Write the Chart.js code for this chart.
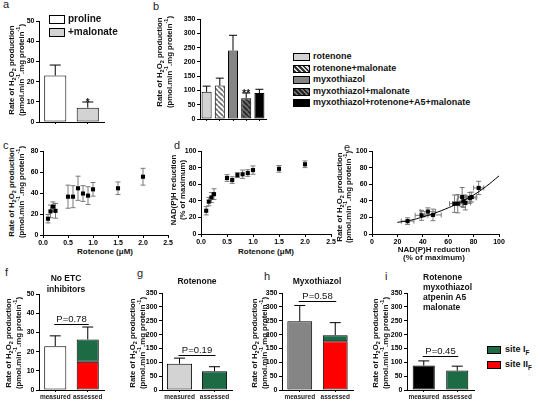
<!DOCTYPE html>
<html>
<head>
<meta charset="utf-8">
<script src="https://cdn.jsdelivr.net/npm/chart.js@4.4.1/dist/chart.umd.min.js"></script>
<style>
  body { margin: 0; background: #fff; width: 540px; height: 403px; position: relative; overflow: hidden;
         font-family: "Liberation Sans", Arial, sans-serif; color: #111; }
  canvas { position: absolute; }
  .t { position: absolute; white-space: nowrap; font-weight: bold; }
  .lt { position: absolute; font-size: 11px; color: #222; line-height: 12px; }
  .yl { position: absolute; white-space: nowrap; font-weight: bold; font-size: 7.8px; line-height: 9px;
        transform: translate(-50%, -50%) rotate(-90deg); }
  .box { position: absolute; border: 1px solid #000; box-sizing: border-box; }
  sub, sup { font-size: 70%; line-height: 0; }
</style>
</head>
<body>
<canvas id="ca"></canvas><canvas id="cb"></canvas>
<canvas id="cc"></canvas><canvas id="cd"></canvas><canvas id="ce"></canvas>
<canvas id="cf"></canvas><canvas id="cg"></canvas><canvas id="ch"></canvas><canvas id="ci"></canvas>

<!-- panel letters -->
<div class="lt" style="left:3px;top:-2px">a</div>
<div class="lt" style="left:153px;top:0px">b</div>
<div class="lt" style="left:3px;top:139px">c</div>
<div class="lt" style="left:174px;top:139px">d</div>
<div class="lt" style="left:344px;top:141px">e</div>
<div class="lt" style="left:5px;top:266px">f</div>
<div class="lt" style="left:137px;top:267px">g</div>
<div class="lt" style="left:264px;top:270px">h</div>
<div class="lt" style="left:385px;top:270px">i</div>

<!-- legend a -->
<div class="box" style="left:49px;top:15px;width:16px;height:9px;background:#fff"></div>
<div class="t" style="left:68px;top:13px;font-size:10px">proline</div>
<div class="box" style="left:49px;top:28px;width:16px;height:9px;background:#d3d3d3"></div>
<div class="t" style="left:68px;top:26px;font-size:10px">+malonate</div>

<div id="legB"></div>

<!-- titles f-i -->
<div class="t" style="left:66px;top:273px;font-size:8.5px;transform:translateX(-50%);text-align:center;line-height:11px">No ETC<br>inhibitors</div>
<div class="t" style="left:197px;top:276px;font-size:8.5px;transform:translateX(-50%)">Rotenone</div>
<div class="t" style="left:317px;top:276px;font-size:8.5px;transform:translateX(-50%)">Myxothiazol</div>
<div class="t" style="left:423px;top:272px;font-size:8.5px;line-height:10px">Rotenone<br>myxothiazol<br>atpenin A5<br>malonate</div>

<!-- legend i -->
<div class="box" style="left:487px;top:346px;width:14px;height:8px;background:#1d6b45"></div>
<div class="t" style="left:505px;top:344px;font-size:9px">site I<sub>F</sub></div>
<div class="box" style="left:487px;top:361px;width:14px;height:8px;background:#ff0000"></div>
<div class="t" style="left:505px;top:359px;font-size:9px">site II<sub>F</sub></div>

<!-- x axis titles -->
<div class="t" style="left:105px;top:247px;font-size:8px;transform:translateX(-50%)">Rotenone (&mu;M)</div>
<div class="t" style="left:266px;top:247px;font-size:8px;transform:translateX(-50%)">Rotenone (&mu;M)</div>
<div class="t" style="left:434px;top:246px;font-size:8px;transform:translateX(-50%);text-align:center;line-height:8px">NAD(P)H reduction<br>(% of maximum)</div>

<div id="ylabels"></div>

<script>
// ---- data ----
const aLabels = ['proline', '+malonate'];
const aValues = [23, 7.1];
const aErr = [5.2, 2.8];
const aMarks = ['', '*'];

const bLabels = ['rotenone', 'rotenone+malonate', 'myxothiazol', 'myxothiazol+malonate', 'myxothiazol+rotenone+A5+malonate'];
const bValues = [95, 117, 240, 73, 91];
const bErr = [20, 26, 53, 18, 13];
const bMarks = ['', '', '', '**', ''];

const rotenoneConc = [0.1, 0.15, 0.2, 0.25, 0.5, 0.6, 0.7, 0.8, 0.9, 1.0, 1.5, 2.0];
const h2o2Rate = [15.5, 22.5, 27, 23, 36.5, 36.5, 44.5, 39.5, 37.5, 43.5, 44.5, 55.5];
const h2o2Err = [4, 6, 4.5, 7, 11, 10.5, 11.5, 7.5, 8.5, 6.5, 6, 8];
const nadphRed = [28, 39, 44, 48, 67.5, 65, 71, 72, 73.5, 77, 78.5, 84];
const nadphErr = [5, 5, 6, 6.5, 4, 4, 3, 5, 4, 5, 4, 4];
const fitX = [20, 30, 40, 50, 60, 70, 80, 90, 100];
const fitY = [14, 16.5, 20.5, 25.5, 31.5, 38.5, 47, 57.5, 70];

const siteLabels = ['measured', 'assessed'];
const fMeasured = [22.8, null], fSiteIF = [null, 11.6], fSiteIIF = [null, 14.7], fErr = [5.4, 6.5];
const gMeasured = [95, null], gSiteIF = [null, 68], gErr = [20, 16];
const hMeasured = [248, null], hSiteIF = [null, 22], hSiteIIF = [null, 176], hErr = [57, 45];
const iMeasured = [88, null], iSiteIF = [null, 70], iErr = [17, 16];
const pTexts = ['P=0.78', 'P=0.19', 'P=0.58', 'P=0.45'];
const pLevels = [34.5, 127, 322, 121];

// ---- colours ----
const GREEN = '#1d6b45', RED = '#ff0000', LIGHT = '#d3d3d3', MID = '#858585';

// diagonal hatch used in panel b
function hatch(bg, fg) {
  const s = 5, c = document.createElement('canvas');
  c.width = s; c.height = s;
  const x = c.getContext('2d');
  x.fillStyle = bg; x.fillRect(0, 0, s, s);
  x.strokeStyle = fg; x.lineWidth = 1.6;
  for (const k of [-s, 0, s]) { x.beginPath(); x.moveTo(k, 0); x.lineTo(k + s, s); x.stroke(); }
  return x.createPattern(c, 'repeat');
}
const bColors = [LIGHT, hatch('#ffffff', '#6e6e6e'), MID, hatch('#6a6a6a', '#262626'), '#000000'];
const bLegendCss = [LIGHT,
  'repeating-linear-gradient(45deg,#333 0 1.5px,#ddd 1.5px 3.5px)',
  MID,
  'repeating-linear-gradient(45deg,#222 0 1.5px,#777 1.5px 3.5px)',
  '#000'];

// legend for b
const legB = document.getElementById('legB');
bLabels.forEach((lab, i) => {
  const y = 53 + i * 11.5;
  legB.insertAdjacentHTML('beforeend',
    `<div class="box" style="left:293px;top:${y}px;width:17px;height:8px;background:${bLegendCss[i]}"></div>` +
    `<div class="t" style="left:313px;top:${y - 2}px;font-size:9px">${lab}</div>`);
});

// rotated y titles: [x line1, x line2, centre y, first line, second line]
const rate1 = 'Rate of H<sub>2</sub>O<sub>2</sub> production';
const rate2 = '(pmol.min<sup>-1</sup>.mg protein<sup>-1</sup>)';
const yTitles = [
  [11, 21, 70, rate1, rate2],
  [159, 169, 62, rate1, rate2],
  [11, 21, 192, rate1, rate2],
  [173, 182, 190, 'NAD(P)H reduction', '(% of maximum)'],
  [339, 348, 197, rate1, rate2],
  [8, 18, 343, rate1, rate2],
  [132, 142, 343, rate1, rate2],
  [254, 264, 343, rate1, rate2],
  [375, 385, 343, rate1, rate2]
];
const yl = document.getElementById('ylabels');
yTitles.forEach(([x1, x2, cy, t1, t2]) => {
  yl.insertAdjacentHTML('beforeend',
    `<div class="yl" style="left:${x1}px;top:${cy}px">${t1}</div>` +
    `<div class="yl" style="left:${x2}px;top:${cy}px">${t2}</div>`);
});

// ---- plugins ----
// error bars: bars get an upward whisker, scatter points get both directions
const errorBars = {
  id: 'errorBars',
  beforeDatasetsDraw(chart) { drawErr(chart, true); },
  afterDatasetsDraw(chart) { drawErr(chart, false); }
};
function drawErr(chart, under) {
  const ctx = chart.ctx, xs = chart.scales.x, ys = chart.scales.y;
  const marks = (chart.options.plugins.errorBars || {}).marks;
  chart.data.datasets.forEach((ds, di) => {
    if (!ds.yErr && !ds.xErr) return;
    const isBar = (ds.type || chart.config.type) === 'bar';
    if (isBar === under) return;
    const meta = chart.getDatasetMeta(di);
    ctx.save();
    ctx.strokeStyle = ds.errColor || '#000';
    ctx.lineWidth = 1;
    meta.data.forEach((el, i) => {
      if (isBar) {
        const e = ds.yErr[i];
        if (e == null) return;
        const len = ys.getPixelForValue(0) - ys.getPixelForValue(e);
        const top = el.y - len, cw = ds.capWidth || 10;
        ctx.beginPath();
        ctx.moveTo(el.x, el.y); ctx.lineTo(el.x, top);
        ctx.moveTo(el.x - cw / 2, top); ctx.lineTo(el.x + cw / 2, top);
        ctx.stroke();
        if (marks && marks[i]) {
          ctx.fillStyle = '#111';
          ctx.font = 'bold 10px "Liberation Sans"';
          ctx.textAlign = 'center'; ctx.textBaseline = 'alphabetic';
          ctx.fillText(marks[i], el.x, top + 4);
        }
      } else {
        const p = ds.data[i], cw = 5;
        if (ds.yErr) {
          const y0 = ys.getPixelForValue(p.y - ds.yErr[i]), y1 = ys.getPixelForValue(p.y + ds.yErr[i]);
          ctx.beginPath();
          ctx.moveTo(el.x, y0); ctx.lineTo(el.x, y1);
          ctx.moveTo(el.x - cw / 2, y0); ctx.lineTo(el.x + cw / 2, y0);
          ctx.moveTo(el.x - cw / 2, y1); ctx.lineTo(el.x + cw / 2, y1);
          ctx.stroke();
        }
        if (ds.xErr) {
          const x0 = xs.getPixelForValue(p.x - ds.xErr[i]), x1 = xs.getPixelForValue(p.x + ds.xErr[i]);
          ctx.beginPath();
          ctx.moveTo(x0, el.y); ctx.lineTo(x1, el.y);
          ctx.moveTo(x0, el.y - cw / 2); ctx.lineTo(x0, el.y + cw / 2);
          ctx.moveTo(x1, el.y - cw / 2); ctx.lineTo(x1, el.y + cw / 2);
          ctx.stroke();
        }
      }
    });
    ctx.restore();
  });
}

// y tick labels written next to the scale's own ticks
const yTickText = {
  id: 'yTickText',
  afterDraw(chart) {
    const ctx = chart.ctx, ys = chart.scales.y;
    ctx.save();
    ctx.fillStyle = '#000';
    ctx.font = 'bold 7px "Liberation Sans"';
    ctx.textAlign = 'right'; ctx.textBaseline = 'middle';
    ys.ticks.forEach((t, i) => ctx.fillText(t.label, ys.right - 4.5, ys.getPixelForTick(i)));
    ctx.restore();
  }
};

// significance bracket between the two bars
const pBar = {
  id: 'pBar',
  afterDraw(chart, args, opts) {
    if (!opts.text) return;
    const ctx = chart.ctx, xs = chart.scales.x, ys = chart.scales.y;
    const x0 = xs.getPixelForValue(0) - 1, x1 = xs.getPixelForValue(1) + 1, y = Math.round(ys.getPixelForValue(opts.level)) + 0.5;
    ctx.save();
    ctx.strokeStyle = '#000'; ctx.lineWidth = 1.2;
    ctx.beginPath(); ctx.moveTo(x0, y); ctx.lineTo(x1, y); ctx.stroke();
    ctx.fillStyle = '#111'; ctx.font = '9.5px "Liberation Sans"';
    ctx.textAlign = 'center'; ctx.textBaseline = 'alphabetic';
    ctx.fillText(opts.text, (x0 + x1) / 2, y - 3);
    ctx.restore();
  }
};

// ---- layout helpers ----
const YW = 22, XH = 12, PT = 8, PR = 10;
const tickFont = { family: 'Liberation Sans', size: 7, weight: 'bold' };
const catFont = { family: 'Liberation Sans', size: 6.5, weight: 'bold' };

function place(id, L, T, R, B) {
  const c = document.getElementById(id);
  const left = L - YW, top = T - PT;
  const w = R - left + PR, h = B - top + XH;
  c.width = w; c.height = h;
  c.style.left = left + 'px'; c.style.top = top + 'px';
  c.style.width = w + 'px'; c.style.height = h + 'px';
  return c;
}

function yAxis(max, step, stacked) {
  return {
    stacked: !!stacked,
    min: 0, max: max,
    ticks: { display: false, stepSize: step, autoSkip: false },
    grid: { drawOnChartArea: false, tickLength: 3, color: '#000' },
    border: { color: '#000', width: 1 },
    afterFit: s => { s.width = YW; }
  };
}
// category axis; a and b carry no visible labels, only the tick marks
function catAxis(showLabels, stacked) {
  return {
    stacked: !!stacked,
    offset: true,
    ticks: { display: showLabels, font: catFont, color: '#222', padding: 1, maxRotation: 0, autoSkip: false },
    grid: { offset: false, drawOnChartArea: false, tickLength: 2, color: '#000' },
    border: { color: '#000', width: 1 },
    afterFit: s => { s.height = XH; }
  };
}
function linAxis(max, step, fmt) {
  return {
    type: 'linear', min: 0, max: max,
    ticks: { stepSize: step, font: tickFont, color: '#000', padding: 1, callback: fmt },
    grid: { drawOnChartArea: false, tickLength: 3, color: '#000' },
    border: { color: '#000', width: 1 },
    afterFit: s => { s.height = XH; }
  };
}
function baseOptions(x, y, extra) {
  return {
    responsive: false, animation: false, devicePixelRatio: 1,
    layout: { padding: { top: PT, right: PR, left: 0, bottom: 0 } },
    plugins: Object.assign({ legend: { display: false }, tooltip: { enabled: false } }, extra || {}),
    scales: { x: x, y: y }
  };
}
const barStyle = { borderColor: '#000', borderWidth: 1, borderSkipped: false };

// ---- a ----
new Chart(place('ca', 39, 21, 104, 122), {
  type: 'bar',
  data: { labels: aLabels, datasets: [Object.assign({
    data: aValues, yErr: aErr, capWidth: 11,
    backgroundColor: ['#ffffff', LIGHT], barPercentage: 0.68, categoryPercentage: 1
  }, barStyle)] },
  options: baseOptions(catAxis(false), yAxis(50, 10), { errorBars: { marks: aMarks } }),
  plugins: [errorBars, yTickText]
});

// ---- b ----
new Chart(place('cb', 200, 19, 266, 119), {
  type: 'bar',
  data: { labels: bLabels, datasets: [Object.assign({
    data: bValues, yErr: bErr, capWidth: 8,
    backgroundColor: bColors, barPercentage: 0.76, categoryPercentage: 1
  }, barStyle)] },
  options: baseOptions(catAxis(false), yAxis(350, 50), { errorBars: { marks: bMarks } }),
  plugins: [errorBars, yTickText]
});

// ---- c ----
const fmt1 = v => Number(v).toFixed(1);
new Chart(place('cc', 43, 151, 168, 235), {
  type: 'scatter',
  data: { datasets: [{
    data: rotenoneConc.map((x, i) => ({ x: x, y: h2o2Rate[i] })), yErr: h2o2Err, errColor: '#7a7a7a',
    pointStyle: 'rect', pointRadius: 2.9, backgroundColor: '#000', borderColor: '#000', borderWidth: 0
  }] },
  options: baseOptions(linAxis(2.5, 0.5, fmt1), yAxis(80, 20)),
  plugins: [errorBars, yTickText]
});

// ---- d ----
new Chart(place('cd', 201, 151, 331, 234), {
  type: 'scatter',
  data: { datasets: [{
    data: rotenoneConc.map((x, i) => ({ x: x, y: nadphRed[i] })), yErr: nadphErr, errColor: '#7a7a7a',
    pointStyle: 'rect', pointRadius: 2.9, backgroundColor: '#000', borderColor: '#000', borderWidth: 0
  }] },
  options: baseOptions(linAxis(2.5, 0.5, fmt1), yAxis(100, 20)),
  plugins: [errorBars, yTickText]
});

// ---- e ----
new Chart(place('ce', 372, 151, 499, 234), {
  type: 'scatter',
  data: { datasets: [{
    data: nadphRed.map((x, i) => ({ x: x, y: h2o2Rate[i] })), xErr: nadphErr, yErr: h2o2Err, errColor: '#7a7a7a',
    pointStyle: 'rect', pointRadius: 2.9, backgroundColor: '#000', borderColor: '#000', borderWidth: 0
  }, {
    data: fitX.map((x, i) => ({ x: x, y: fitY[i] })), showLine: true, tension: 0.4,
    pointRadius: 0, borderColor: '#000', borderWidth: 1
  }] },
  options: baseOptions(linAxis(100, 20), yAxis(100, 20)),
  plugins: [errorBars, yTickText]
});

// ---- f to i ----
function siteChart(id, box, sets, yMax, yStep, pi) {
  new Chart(place(id, box[0], box[1], box[2], box[3]), {
    type: 'bar',
    data: { labels: siteLabels, datasets: sets.map(s => Object.assign({
      barPercentage: box[4], categoryPercentage: 1, capWidth: 11
    }, barStyle, s)) },
    options: baseOptions(catAxis(true, true), yAxis(yMax, yStep, true),
      { pBar: { text: pTexts[pi], level: pLevels[pi] } }),
    plugins: [errorBars, pBar, yTickText]
  });
}
siteChart('cf', [39, 294, 104, 390, 0.68], [
  { data: fMeasured, backgroundColor: '#ffffff', yErr: [fErr[0], null] },
  { data: fSiteIIF, backgroundColor: RED },
  { data: fSiteIF, backgroundColor: GREEN, yErr: [null, fErr[1]] }
], 50, 10, 0);
siteChart('cg', [162, 293, 232, 390, 0.72], [
  { data: gMeasured, backgroundColor: LIGHT, yErr: [gErr[0], null] },
  { data: gSiteIF, backgroundColor: GREEN, yErr: [null, gErr[1]] }
], 350, 50, 1);
siteChart('ch', [282, 293, 353, 390, 0.7], [
  { data: hMeasured, backgroundColor: MID, yErr: [hErr[0], null] },
  { data: hSiteIIF, backgroundColor: RED },
  { data: hSiteIF, backgroundColor: GREEN, yErr: [null, hErr[1]] }
], 350, 50, 2);
siteChart('ci', [407, 293, 474, 390, 0.66], [
  { data: iMeasured, backgroundColor: '#000000', yErr: [iErr[0], null] },
  { data: iSiteIF, backgroundColor: GREEN, yErr: [null, iErr[1]] }
], 350, 50, 3);
</script>
</body>
</html>
